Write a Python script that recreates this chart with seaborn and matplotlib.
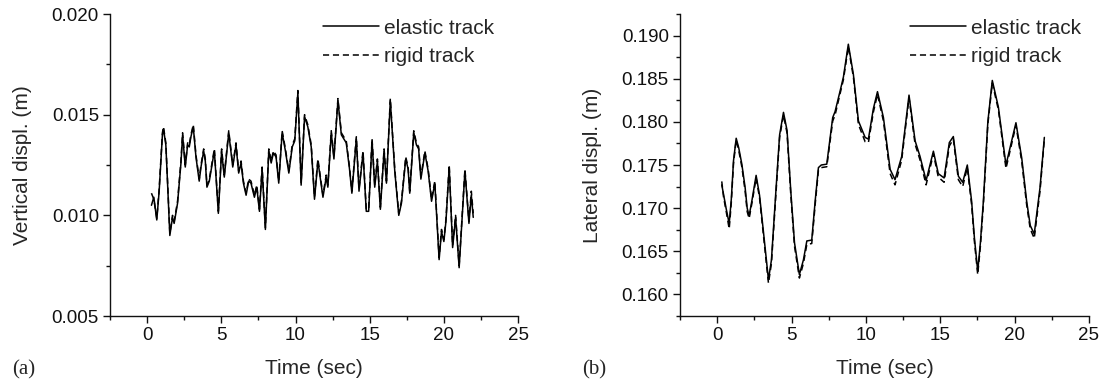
import numpy as np
import pandas as pd
import matplotlib
matplotlib.use("Agg")
import matplotlib.pyplot as plt
import seaborn as sns
from matplotlib.ticker import MultipleLocator, FormatStrFormatter

# ---------------- data ----------------
t_vert = [0.29, 0.45, 0.65, 0.81, 1.03, 1.10, 1.26, 1.37, 1.53, 1.71, 1.82, 2.05, 2.28, 2.39,
          2.57, 2.73, 2.84, 2.95, 3.11, 3.29, 3.51, 3.63, 3.81, 3.92, 4.03, 4.19, 4.53, 4.80,
          5.02, 5.20, 5.50, 5.77, 5.99, 6.17, 6.33, 6.49, 6.67, 6.84, 7.00, 7.23, 7.39, 7.57,
          7.75, 7.97, 8.20, 8.36, 8.51, 8.69, 8.87, 9.10, 9.32, 9.55, 9.78, 9.95, 10.16, 10.38,
          10.61, 10.83, 11.06, 11.28, 11.51, 11.85, 12.07, 12.18, 12.41, 12.59, 12.86, 13.09,
          13.42, 13.64, 13.80, 14.10, 14.28, 14.55, 14.77, 14.93, 15.16, 15.34, 15.52, 15.72,
          15.97, 16.13, 16.39, 16.69, 16.96, 17.14, 17.43, 17.59, 17.70, 17.97, 18.15, 18.30,
          18.45, 18.72, 18.94, 19.17, 19.39, 19.68, 19.84, 20.00, 20.14, 20.36, 20.59, 20.79,
          21.03, 21.42, 21.69, 21.85, 21.98]
vert_elastic = [0.0105, 0.0109, 0.00977, 0.0112, 0.0140, 0.0143, 0.0135, 0.0117, 0.0090, 0.0099,
                0.0096, 0.0106, 0.0126, 0.0140, 0.0124, 0.0135, 0.0134, 0.0139, 0.0144, 0.0129,
                0.0117, 0.0124, 0.0132, 0.0127, 0.0114, 0.0117, 0.0132, 0.0101, 0.0132, 0.0119,
                0.0141, 0.0124, 0.0135, 0.0121, 0.0126, 0.0116, 0.0110, 0.0117, 0.0116, 0.0109,
                0.0114, 0.0102, 0.0123, 0.0093, 0.0132, 0.0126, 0.0131, 0.0129, 0.0116, 0.0141,
                0.0132, 0.0121, 0.0134, 0.0137, 0.0161, 0.0115, 0.0149, 0.0144, 0.0134, 0.0108,
                0.0127, 0.0109, 0.0119, 0.0114, 0.0141, 0.0128, 0.0157, 0.0140, 0.0136, 0.0123,
                0.0111, 0.0138, 0.0112, 0.0131, 0.0102, 0.0102, 0.0137, 0.0114, 0.0127, 0.0103,
                0.0132, 0.0116, 0.0157, 0.0122, 0.0100, 0.0106, 0.0128, 0.0123, 0.0111, 0.0141,
                0.0135, 0.0133, 0.0118, 0.0131, 0.0122, 0.0107, 0.0116, 0.0078, 0.0092, 0.0087,
                0.0097, 0.0124, 0.0084, 0.0099, 0.0074, 0.0122, 0.0096, 0.0110, 0.0099]
vert_rigid = [0.0111, 0.0108, 0.00985, 0.0113, 0.0141, 0.0144, 0.0136, 0.0118, 0.0091, 0.0100,
              0.0097, 0.0107, 0.0127, 0.0141, 0.0125, 0.0136, 0.0135, 0.0140, 0.0145, 0.0130,
              0.0118, 0.0125, 0.0133, 0.0128, 0.0115, 0.0118, 0.0133, 0.0102, 0.0133, 0.0120,
              0.0142, 0.0125, 0.0136, 0.0122, 0.0127, 0.0117, 0.0111, 0.0118, 0.0117, 0.0110,
              0.0115, 0.0103, 0.0124, 0.0094, 0.0133, 0.0127, 0.0132, 0.0130, 0.0117, 0.0142,
              0.0133, 0.0122, 0.0135, 0.0138, 0.0162, 0.0116, 0.0150, 0.0145, 0.0135, 0.0109,
              0.0128, 0.0110, 0.0120, 0.0115, 0.0142, 0.0129, 0.0158, 0.0141, 0.0137, 0.0124,
              0.0112, 0.0139, 0.0113, 0.0132, 0.0103, 0.0103, 0.0138, 0.0115, 0.0128, 0.0104,
              0.0133, 0.0117, 0.0158, 0.0123, 0.0101, 0.0107, 0.0129, 0.0124, 0.0112, 0.0142,
              0.0136, 0.0134, 0.0119, 0.0132, 0.0123, 0.0108, 0.0117, 0.0079, 0.0093, 0.0088,
              0.0098, 0.0125, 0.0085, 0.0100, 0.0075, 0.0123, 0.0097, 0.0112, 0.0101]

t_lat = [0.31, 0.43, 0.60, 0.81, 0.95, 1.10, 1.28, 1.45, 1.66, 1.88, 2.02, 2.15, 2.35, 2.62,
         2.85, 3.11, 3.28, 3.45, 3.65, 3.95, 4.20, 4.46, 4.70, 4.95, 5.20, 5.53, 5.80, 6.03,
         6.36, 6.60, 6.81, 7.00, 7.37, 7.77, 7.93, 8.27, 8.49, 8.82, 9.16, 9.50, 9.95, 10.17,
         10.50, 10.78, 11.18, 11.63, 11.96, 12.41, 12.90, 13.31, 13.64, 14.05, 14.54, 14.87,
         15.26, 15.61, 15.88, 16.22, 16.51, 16.82, 17.11, 17.30, 17.52, 17.70, 17.90, 18.20,
         18.50, 18.91, 19.42, 20.09, 20.48, 20.81, 21.05, 21.32, 21.71, 22.00]
lat_elastic = [0.1727, 0.1716, 0.1700, 0.1682, 0.1710, 0.1755, 0.1781, 0.1770, 0.1751, 0.1724,
               0.1700, 0.1691, 0.1710, 0.1738, 0.1715, 0.1673, 0.1645, 0.1617, 0.1640, 0.1720,
               0.1785, 0.1811, 0.1790, 0.1720, 0.1660, 0.1623, 0.1640, 0.1662, 0.1663, 0.1710,
               0.1747, 0.1750, 0.1751, 0.1805, 0.1812, 0.1836, 0.1852, 0.1890, 0.1855, 0.1801,
               0.1782, 0.1780, 0.1815, 0.1835, 0.1805, 0.1745, 0.1733, 0.1760, 0.1831, 0.1778,
               0.1760, 0.1732, 0.1766, 0.1740, 0.1735, 0.1776, 0.1783, 0.1737, 0.1730, 0.1750,
               0.1708, 0.1665, 0.1627, 0.1660, 0.1708, 0.1800, 0.1848, 0.1817, 0.1750, 0.1799,
               0.1758, 0.1708, 0.1680, 0.1670, 0.1724, 0.1782]
lat_rigid = [0.1731, 0.1713, 0.1697, 0.1676, 0.1706, 0.1752, 0.1779, 0.1767, 0.1748, 0.1720,
             0.1696, 0.1688, 0.1707, 0.1735, 0.1712, 0.1669, 0.1641, 0.1613, 0.1636, 0.1716,
             0.1782, 0.1808, 0.1787, 0.1716, 0.1656, 0.1619, 0.1636, 0.1658, 0.1659, 0.1706,
             0.1744, 0.1747, 0.1748, 0.1801, 0.1808, 0.1833, 0.1849, 0.1887, 0.1852, 0.1797,
             0.1777, 0.1776, 0.1811, 0.1832, 0.1801, 0.1740, 0.1727, 0.1756, 0.1828, 0.1774,
             0.1756, 0.1727, 0.1763, 0.1736, 0.1730, 0.1772, 0.1780, 0.1733, 0.1725, 0.1747,
             0.1704, 0.1661, 0.1623, 0.1656, 0.1704, 0.1797, 0.1845, 0.1814, 0.1746, 0.1796,
             0.1754, 0.1704, 0.1676, 0.1665, 0.1720, 0.1780]

series_names = ["elastic track", "rigid track"]

# ---------------- style ----------------
sns.set_style("ticks")
plt.rcParams["font.family"] = ["Liberation Sans", "DejaVu Sans"]
plt.rcParams["axes.linewidth"] = 1.0
plt.rcParams["axes.edgecolor"] = "#111111"

fig = plt.figure(figsize=(11.06, 3.83), dpi=100)
ax1 = fig.add_axes([0.0995, 0.1749, 0.3689, 0.7885])
ax2 = fig.add_axes([0.6148, 0.1749, 0.3698, 0.7885])

def build(t, a, b):
    return pd.concat([
        pd.DataFrame({"t": t, "v": a, "s": series_names[0]}),
        pd.DataFrame({"t": t, "v": b, "s": series_names[1]}),
    ])

df1 = build(t_vert, vert_elastic, vert_rigid)
df2 = build(t_lat, lat_elastic, lat_rigid)

for ax, df, lx in [(ax1, df1, 0.962), (ax2, df2, 1.002)]:
    sns.lineplot(data=df, x="t", y="v", hue="s", style="s",
                 palette=["black", "black"], dashes=[(None, None), (4, 2.5)],
                 linewidth=1.1, ax=ax, sort=False, estimator=None)
    ax.set_xlim(-2.5, 25)
    ax.xaxis.set_major_locator(MultipleLocator(5))
    ax.xaxis.set_minor_locator(MultipleLocator(2.5))
    ax.set_xlabel("Time (sec)", fontsize=15, labelpad=11)
    ax.tick_params(axis="both", which="major", direction="out", length=5, width=1,
                   labelsize=13.5, color="#111111", labelcolor="#111111", pad=3)
    ax.tick_params(axis="both", which="minor", direction="out", length=3, width=1,
                   color="#111111")
    sns.despine(ax=ax)
    h, l = ax.get_legend_handles_labels()
    ax.legend(h, l, loc="upper right", bbox_to_anchor=(lx, 1.012), frameon=False,
              fontsize=15, handlelength=2.7, handletextpad=0.25, labelspacing=0.45,
              borderaxespad=0.0)

ax1.set_ylim(0.005, 0.020)
ax1.yaxis.set_major_locator(MultipleLocator(0.005))
ax1.yaxis.set_minor_locator(MultipleLocator(0.0025))
ax1.yaxis.set_major_formatter(FormatStrFormatter("%.3f"))
ax1.set_ylabel("Vertical displ. (m)", fontsize=15, labelpad=14)

ax2.set_ylim(0.1575, 0.1925)
ax2.yaxis.set_major_locator(MultipleLocator(0.005))
ax2.yaxis.set_minor_locator(MultipleLocator(0.0025))
ax2.yaxis.set_major_formatter(FormatStrFormatter("%.3f"))
ax2.set_ylabel("Lateral displ. (m)", fontsize=15, labelpad=14)

fig.text(0.011, 0.034, "(a)", fontsize=15, va="center", family=["Liberation Serif", "DejaVu Serif"])
fig.text(0.526, 0.034, "(b)", fontsize=15, va="center", family=["Liberation Serif", "DejaVu Serif"])

fig.savefig("out.png", dpi=100)
